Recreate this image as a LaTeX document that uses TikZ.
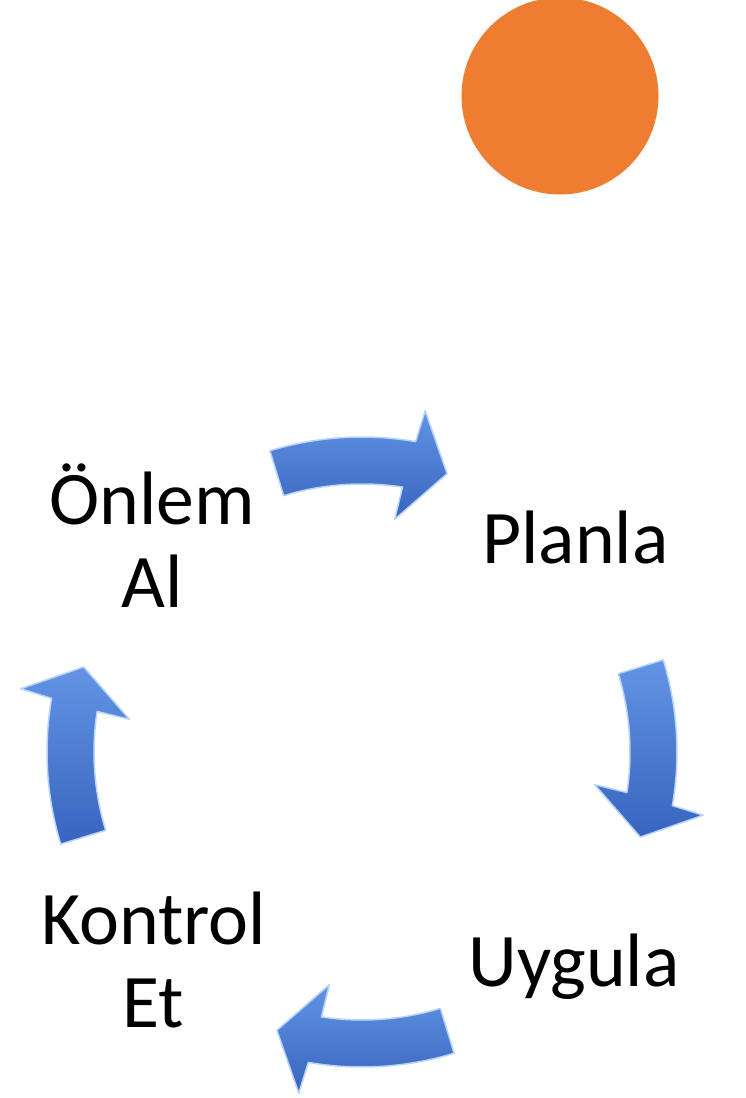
\documentclass[tikz,border=0pt]{standalone}
\usepackage{fontspec}
\setmainfont{Carlito}
\usetikzlibrary{positioning}
\definecolor{sunorange}{RGB}{237,125,49}
\definecolor{arrowlight}{RGB}{98,148,228}
\definecolor{arrowdark}{RGB}{56,100,190}
\definecolor{arrowedge}{RGB}{185,212,250}
\tikzset{
    steplabel/.style={
        align=center, anchor=base, inner sep=0pt,
        font=\fontsize{76}{84}\selectfont
    },
    sundot/.style={
        circle, fill=sunorange, minimum size=197bp, inner sep=0pt
    },
    cyclearrow/.pic={
        \path[top color=arrowlight, bottom color=arrowdark,
              draw=arrowedge, line width=1.5bp, line join=round]
            (#1+17:315) arc[start angle=#1+17, end angle=#1-9.8, radius=315]
            -- (#1-10.5:347) -- (#1-17:291) -- (#1-8:235) -- (#1-8.7:268)
            arc[start angle=#1-8.7, end angle=#1+17, radius=268] -- cycle;
    }
}
\begin{document}
\begin{tikzpicture}[x=1bp, y=1bp]
    \useasboundingbox (0,0) rectangle (746,1098);

    % --- orange dot ---
    \node[sundot] (sun) at (560,1002) {};

    % --- cycle steps ---
    \coordinate (hub) at (362,346);
    \node[steplabel] (onlem)   at (152,490)   {Önlem\\Al};
    \node[steplabel] (planla)  at (575.5,534) {Planla};
    \node[steplabel] (uygula)  at (574,111)   {Uygula};
    \node[steplabel] (kontrol) at (153.5,70)  {Kontrol\\Et};

    % --- arrows (clockwise) ---
    \pic at (hub) {cyclearrow=90};
    \pic at (hub) {cyclearrow=0};
    \pic at (hub) {cyclearrow=-90};
    \pic at (hub) {cyclearrow=180};
\end{tikzpicture}
\end{document}
